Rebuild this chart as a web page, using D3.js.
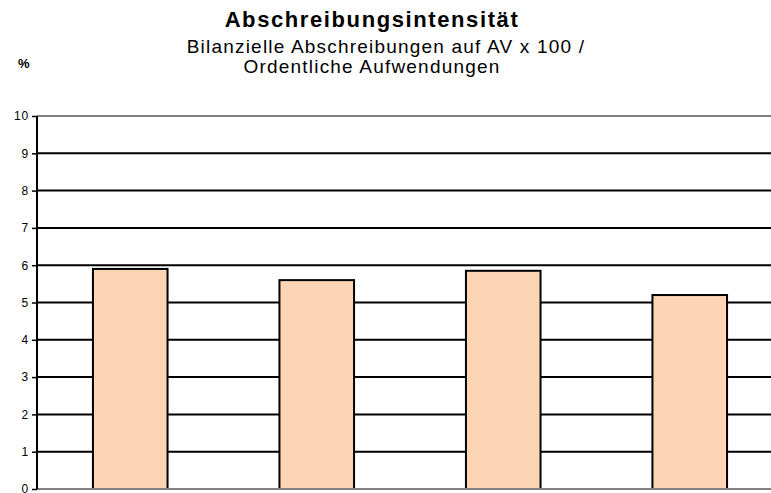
<!DOCTYPE html>
<html><head><meta charset="utf-8">
<script src="https://cdn.jsdelivr.net/npm/d3@7"></script>
<style>body{margin:0;background:#fff}svg{display:block}text{font-family:"Liberation Sans",Arial,sans-serif}</style>
</head><body><svg id="c" width="771" height="493"></svg>
<script>
const categories = ["A", "B", "C", "D"];
const values = [5.9, 5.6, 5.85, 5.2];
const yTicks = [0,1,2,3,4,5,6,7,8,9,10];
const title = "Abschreibungsintensität";
const subtitle = ["Bilanzielle Abschreibungen auf AV x 100 /", "Ordentliche Aufwendungen"];
const unitLabel = "%";

const svg = d3.select("#c");
const x0 = 37, x1 = 783, yTop = 116, yBot = 489;
const x = d3.scaleBand().domain(categories).range([x0, x1]).paddingInner(0.6).paddingOuter(0.3);
const y = d3.scaleLinear().domain([0, 10]).range([yBot, yTop]);

// gridlines
svg.append("g").selectAll("line").data(yTicks.filter(t => t > 0)).join("line")
  .attr("x1", x0).attr("x2", 771).attr("y1", d => y(d)).attr("y2", d => y(d))
  .attr("stroke", d => d === 10 ? "#808080" : "#000").attr("stroke-width", 2);

// bars
svg.append("g").selectAll("rect").data(values).join("rect")
  .attr("x", (d, i) => x(categories[i])).attr("width", x.bandwidth())
  .attr("y", d => y(d)).attr("height", d => y(0) - y(d))
  .attr("fill", "#FCD5B4").attr("stroke", "#000").attr("stroke-width", 2);

// x axis line
svg.append("line").attr("x1", x0).attr("x2", 771).attr("y1", y(0)).attr("y2", y(0))
  .attr("stroke", "#808080").attr("stroke-width", 2);

// y axis
const ya = svg.append("g").attr("transform", `translate(${x0},0)`)
  .call(d3.axisLeft(y).tickValues(yTicks).tickSize(5).tickPadding(3).tickFormat(d3.format("d")));
ya.select(".domain").attr("stroke", "#000").attr("stroke-width", 2).attr("d", `M0,${yTop}V${yBot}`);
ya.selectAll(".tick line").attr("stroke", "#000").attr("stroke-width", 1.5);
ya.selectAll(".tick text").attr("font-size", 12).attr("fill", "#000").attr("letter-spacing", 0.8)
  .attr("font-family", '"Liberation Sans", Arial, sans-serif');

// titles
svg.append("text").attr("x", 372).attr("y", 27).attr("text-anchor", "middle")
  .attr("font-size", 22).attr("font-weight", "bold").attr("letter-spacing", 1.6).text(title);
svg.selectAll(".sub").data(subtitle).join("text").attr("class", "sub")
  .attr("x", (d, i) => i === 0 ? 386 : 372).attr("y", (d, i) => 53 + i * 20)
  .attr("text-anchor", "middle").attr("font-size", 19).attr("letter-spacing", 1.2).text(d => d);
svg.append("text").attr("x", 18).attr("y", 68).attr("font-size", 13).attr("font-weight", "bold").text(unitLabel);
</script></body></html>
